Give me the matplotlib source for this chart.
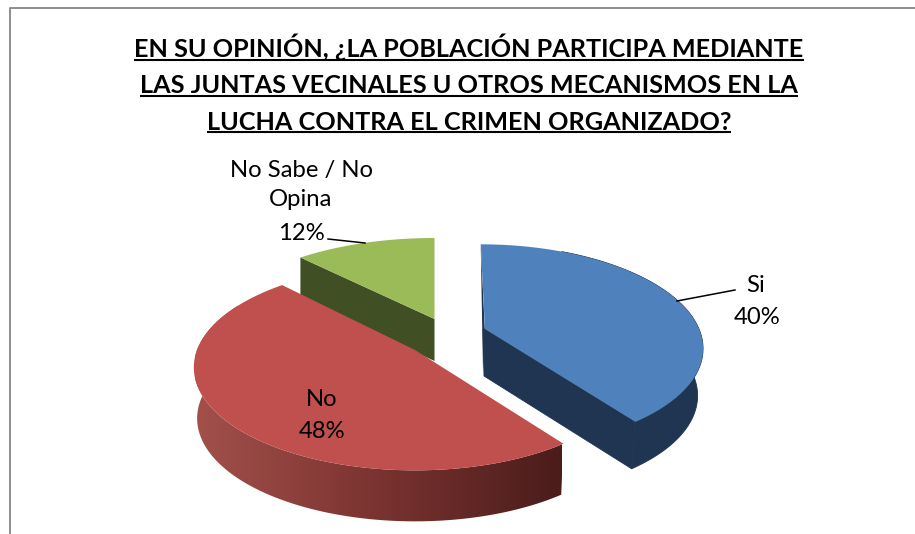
import matplotlib as mpl
mpl.use('Agg')
import matplotlib.pyplot as plt
from matplotlib.colors import LinearSegmentedColormap
from matplotlib.patches import Polygon
import numpy as np

title_lines = ["EN SU OPINIÓN, ¿LA POBLACIÓN PARTICIPA MEDIANTE",
               "LAS JUNTAS VECINALES U OTROS MECANISMOS EN LA",
               "LUCHA CONTRA EL CRIMEN ORGANIZADO?"]
categories = ["Si", "No", "No Sabe / No\nOpina"]
values = [40, 48, 12]

K = 0.169


def project(theta, apex, rx, ry, skew, scale=1.0, drop=0.0):
  # clockwise from the top, far side of the pie drawn smaller
  xx = np.sin(theta)
  yy = np.cos(theta)
  w = 1 + K * yy
  px = apex[0] + scale * (rx * xx + skew * yy) / w
  py = apex[1] - ry * yy / w + drop
  return np.column_stack([px, py])


def arc(start, end, *args, **kwargs):
  return project(np.linspace(start, end, 200), *args, **kwargs)


fig = plt.figure(figsize=(9.15, 5.34), dpi=100)
ax = fig.add_axes([0, 0, 1, 1])
ax.set_xlim(0, 915)
ax.set_ylim(534, 0)
ax.axis('off')

# frame of the pasted chart
ax.plot([10, 10, 915], [534, 7.5, 7.5], color='#868686', lw=1.3)

bounds = np.cumsum([0] + values) / 100 * 2 * np.pi

# green slice, behind the red one
g0, g1 = bounds[2], bounds[3]
g = ((434.5, 319), 220, 94.7, 0)
g_side = np.array([project(np.array([g0]), *g)[0], g[0], (g[0][0], g[0][1] + 42),
                   project(np.array([g0]), *g, drop=42)[0]])
ax.add_patch(Polygon(g_side, fc='#404F24', ec='none', zorder=1))
ax.add_patch(Polygon(np.vstack([[g[0]], arc(g0, g1, *g)]), fc='#9BBB59', ec='none', zorder=2))

# red slice
r0, r1 = bounds[1], bounds[2]
r = ((415, 350), 218, 100, 0)
r_depth = 51
t_front = np.linspace(r0, min(r1, 1.5 * np.pi + 0.5), 200)
top_edge = project(t_front, *r)
low_edge = project(t_front, *r, scale=0.985, drop=r_depth)
red_side = Polygon(np.vstack([top_edge, low_edge[::-1]]), fc='none', ec='none')
ax.add_patch(red_side)
red_cmap = LinearSegmentedColormap.from_list('red_side', ['#A3504B', '#7A3330', '#4A1C1B'])
grad = ax.imshow(np.linspace(0, 1, 256).reshape(1, -1), cmap=red_cmap, aspect='auto',
                 extent=[195, 562, 534, 280], zorder=3)
grad.set_clip_path(red_side)
ax.add_patch(Polygon(np.vstack([[r[0]], arc(r0, r1, *r)]), fc='#C0504D', ec='none', zorder=4))

# blue slice, pulled out to the right
b0, b1 = bounds[0], bounds[1]
b = ((485, 329), 214, 99, -5)
b_depth = 47
b_top = arc(0.45, b1, *b)
b_low = arc(0.45, b1, *b, scale=0.975, drop=b_depth)
b_tip = b_top[-1]
b_tip_low = b_low[-1]
ax.add_patch(Polygon(np.vstack([b_top, b_low[::-1]]), fc='#1F3552', ec='#1F3552', lw=0.6, zorder=5))
ax.add_patch(Polygon([b[0], b_tip, b_tip_low, (b[0][0] - 1, b[0][1] + b_depth),
                      (b[0][0] - 2, b[0][1])], fc='#1F3552', ec='#1F3552', lw=0.6, zorder=5))
ax.add_patch(Polygon([project(np.array([b0]), *b)[0], (b[0][0], b[0][1] + 5),
                      (b[0][0] - 2, b[0][1] + b_depth - 5)],
                     fc='#1F3552', ec='none', zorder=5))
ax.add_patch(Polygon(np.vstack([[b[0]], arc(b0, b1, *b)]), fc='#4F81BD', ec='none', zorder=6))

# leader lines
ax.plot([328, 365], [239, 243], color='black', lw=1.1, zorder=7)
ax.plot([677, 735], [301, 290], color='black', lw=1.1, zorder=7)

# labels
label_font = dict(family='Lato', fontsize=17.2, color='black', ha='center', va='center', zorder=8)
ax.text(301, 185, categories[2], linespacing=1.45, **label_font)
ax.text(301, 234, "%d%%" % values[2], **label_font)
ax.text(756, 285, categories[0], **label_font)
ax.text(757, 318, "%d%%" % values[0], **label_font)
ax.text(322, 399, categories[1], **label_font)
ax.text(322, 431, "%d%%" % values[1], **label_font)

# title, matplotlib has no underline so it is drawn under each line
fig.canvas.draw()
renderer = fig.canvas.get_renderer()
inv = ax.transData.inverted()
for line, base, ul in zip(title_lines, [57, 93, 129.5], [59.5, 95.5, 132]):
  t = ax.text(469, base, line, family='Lato', fontweight='bold', fontsize=18.2,
              ha='center', va='baseline', color='black')
  box = t.get_window_extent(renderer)
  x0 = inv.transform((box.x0, 0))[0]
  x1 = inv.transform((box.x1, 0))[0]
  ax.plot([x0, x1], [ul, ul], color='black', lw=1.5, solid_capstyle='butt')

ax.set_xlim(0, 915)
ax.set_ylim(534, 0)
fig.savefig('out.png', dpi=100, facecolor='white')
